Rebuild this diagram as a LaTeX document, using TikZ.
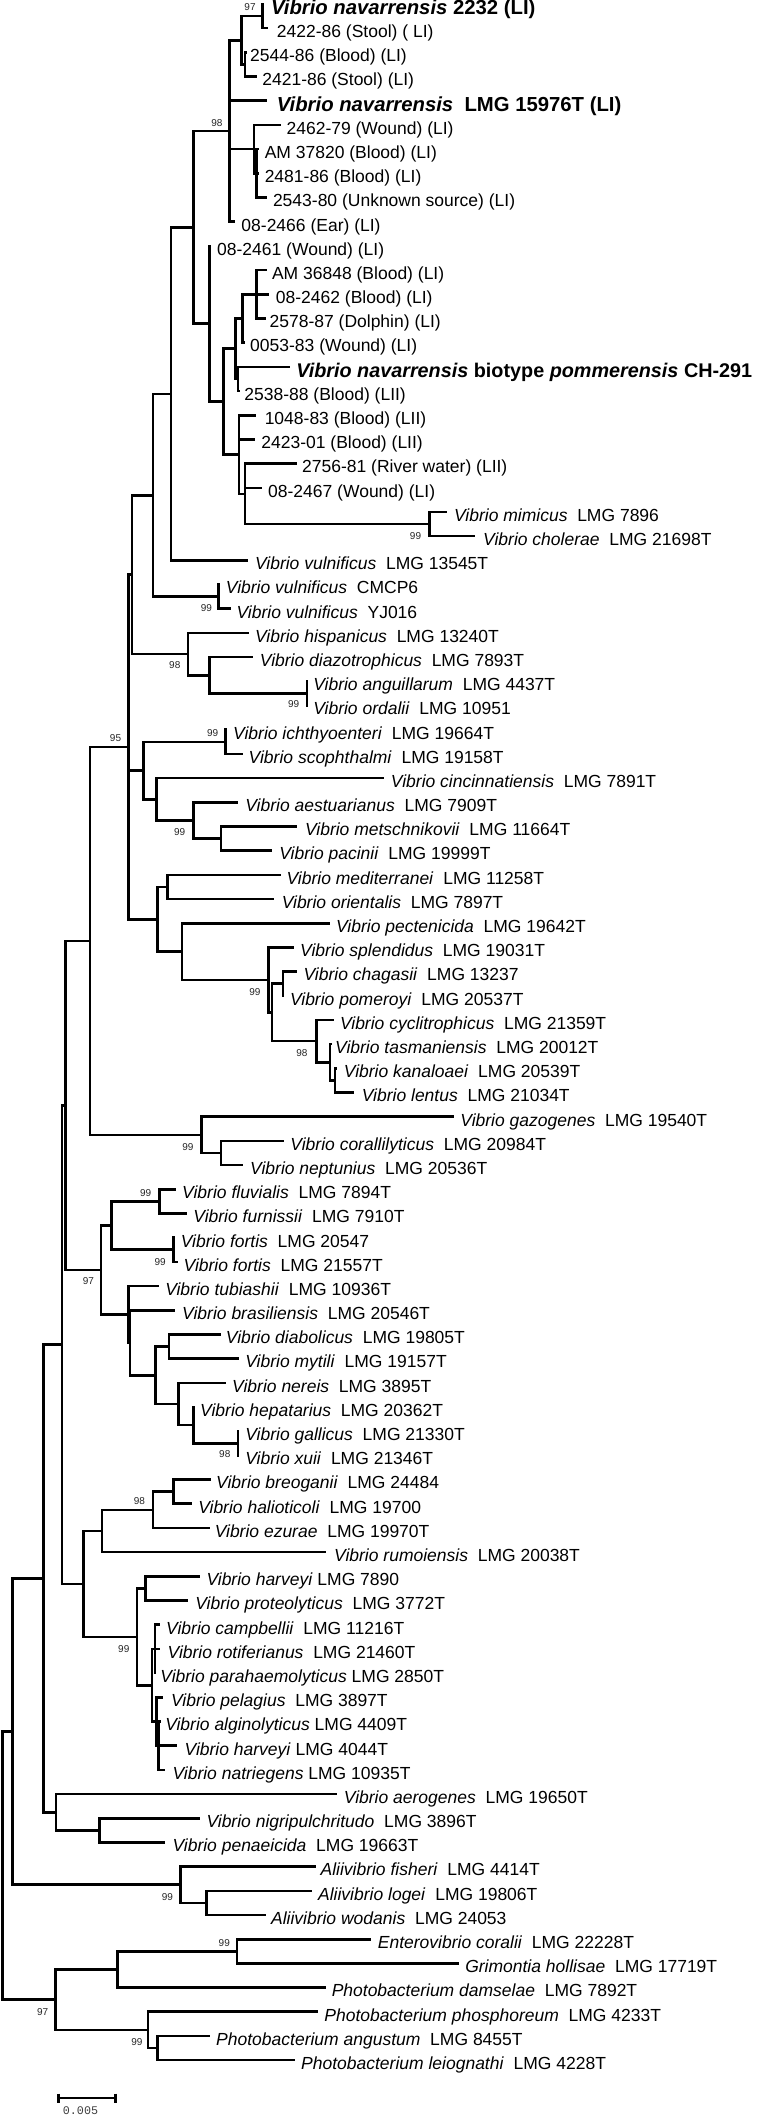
\documentclass[tikz,border=0pt]{standalone}
\usepackage{fontspec}
\setmainfont{Liberation Sans}
\setmonofont{Liberation Mono}
\usetikzlibrary{calc}
\newcommand\lf[5][lab]{%
  \coordinate (t#2) at ({#3/2.06},{4+(#2-1)*24.19});
  \node[#1] (n#2) at ({#4/2.06},{4+(#2-1)*24.19}) {#5};}
\newcommand\inode[4]{%
  \coordinate (#1m) at ($(#3)!0.5!(#4)$);
  \coordinate (#1) at ({#2/2.06},0 |- #1m);}
\newcommand\vsp[2]{\textit{#1}~~#2}
\newcommand\vsi[2]{\textit{#1} #2}
\tikzset{
  lab/.style={anchor=base west, inner sep=0pt, yshift=-9.3pt, font=\fontsize{17.5}{21}\selectfont},
  blab/.style={anchor=base west, inner sep=0pt, yshift=-10.3pt, font=\fontsize{20.3}{24}\selectfont\bfseries},
  blabs/.style={anchor=base west, inner sep=0pt, yshift=-10.2pt, font=\fontsize{19.8}{24}\selectfont\bfseries},
  br/.style={line width=2.6pt},
  bs/.style={inner sep=0pt, font=\fontsize{10}{12}\selectfont, text=black!85},
}
\begin{document}
\begin{tikzpicture}[x=1pt,y=-1pt]
\fill[white] (0,0) rectangle (760,2116);
\useasboundingbox (0,0) rectangle (760,2116);
% leaves
\lf[blab]{1}{544}{558}{\textit{Vibrio navarrensis} 2232 (LI)}
\lf{2}{553}{570}{2422-86 (Stool) ( LI)}
\lf{3}{508}{515}{2544-86 (Blood) (LI)}
\lf{4}{529}{540}{2421-86 (Stool) (LI)}
\lf[blab]{5}{550}{570}{\textit{Vibrio navarrensis}~~LMG 15976T (LI)}
\lf{6}{578}{590}{2462-79 (Wound) (LI)}
\lf{7}{533}{545}{AM 37820 (Blood) (LI)}
\lf{8}{533}{545}{2481-86 (Blood) (LI)}
\lf{9}{550}{562}{2543-80 (Unknown source) (LI)}
\lf{10}{485}{497}{08-2466 (Ear) (LI)}
\lf{11}{435}{447}{08-2461 (Wound) (LI)}
\lf{12}{550}{560}{AM 36848 (Blood) (LI)}
\lf{13}{555}{568}{08-2462 (Blood) (LI)}
\lf{14}{548}{555}{2578-87 (Dolphin) (LI)}
\lf{15}{505}{515}{0053-83 (Wound) (LI)}
\lf[blabs]{16}{598}{610}{\textit{Vibrio navarrensis} biotype \textit{pommerensis} CH-291}
\lf{17}{494}{503}{2538-88 (Blood) (LII)}
\lf{18}{528}{545}{1048-83 (Blood) (LII)}
\lf{19}{525}{538}{2423-01 (Blood) (LII)}
\lf{20}{612}{622}{2756-81 (River water) (LII)}
\lf{21}{540}{552}{08-2467 (Wound) (LI)}
\lf{22}{920}{935}{\vsp{Vibrio mimicus}{LMG 7896}}
\lf{23}{978}{995}{\vsp{Vibrio cholerae}{LMG 21698T}}
\lf{24}{510}{525}{\vsp{Vibrio vulnificus}{LMG 13545T}}
\lf{25}{454}{465}{\vsp{Vibrio vulnificus}{CMCP6}}
\lf{26}{475}{487}{\vsp{Vibrio vulnificus}{YJ016}}
\lf{27}{512}{525}{\vsp{Vibrio hispanicus}{LMG 13240T}}
\lf{28}{522}{535}{\vsp{Vibrio diazotrophicus}{LMG 7893T}}
\lf{29}{635}{645}{\vsp{Vibrio anguillarum}{LMG 4437T}}
\lf{30}{635}{645}{\vsp{Vibrio ordalii}{LMG 10951}}
\lf{31}{468}{480}{\vsp{Vibrio ichthyoenteri}{LMG 19664T}}
\lf{32}{500}{512}{\vsp{Vibrio scophthalmi}{LMG 19158T}}
\lf{33}{790}{805}{\vsp{Vibrio cincinnatiensis}{LMG 7891T}}
\lf{34}{490}{505}{\vsp{Vibrio aestuarianus}{LMG 7909T}}
\lf{35}{612}{628}{\vsp{Vibrio metschnikovii}{LMG 11664T}}
\lf{36}{560}{575}{\vsp{Vibrio pacinii}{LMG 19999T}}
\lf{37}{578}{590}{\vsp{Vibrio mediterranei}{LMG 11258T}}
\lf{38}{565}{580}{\vsp{Vibrio orientalis}{LMG 7897T}}
\lf{39}{680}{692}{\vsp{Vibrio pectenicida}{LMG 19642T}}
\lf{40}{605}{618}{\vsp{Vibrio splendidus}{LMG 19031T}}
\lf{41}{612}{625}{\vsp{Vibrio chagasii}{LMG 13237}}
\lf{42}{586}{597}{\vsp{Vibrio pomeroyi}{LMG 20537T}}
\lf{43}{688}{700}{\vsp{Vibrio cyclitrophicus}{LMG 21359T}}
\lf{44}{683}{690}{\vsp{Vibrio tasmaniensis}{LMG 20012T}}
\lf{45}{695}{708}{\vsp{Vibrio kanaloaei}{LMG 20539T}}
\lf{46}{730}{745}{\vsp{Vibrio lentus}{LMG 21034T}}
\lf{47}{935}{948}{\vsp{Vibrio gazogenes}{LMG 19540T}}
\lf{48}{585}{598}{\vsp{Vibrio corallilyticus}{LMG 20984T}}
\lf{49}{500}{515}{\vsp{Vibrio neptunius}{LMG 20536T}}
\lf{50}{362}{375}{\vsp{Vibrio fluvialis}{LMG 7894T}}
\lf{51}{385}{398}{\vsp{Vibrio furnissii}{LMG 7910T}}
\lf{52}{361}{372}{\vsp{Vibrio fortis}{LMG 20547}}
\lf{53}{366}{378}{\vsp{Vibrio fortis}{LMG 21557T}}
\lf{54}{328}{340}{\vsp{Vibrio tubiashii}{LMG 10936T}}
\lf{55}{360}{375}{\vsp{Vibrio brasiliensis}{LMG 20546T}}
\lf{56}{455}{465}{\vsp{Vibrio diabolicus}{LMG 19805T}}
\lf{57}{492}{505}{\vsp{Vibrio mytili}{LMG 19157T}}
\lf{58}{465}{478}{\vsp{Vibrio nereis}{LMG 3895T}}
\lf{59}{402}{412}{\vsp{Vibrio hepatarius}{LMG 20362T}}
\lf{60}{493}{505}{\vsp{Vibrio gallicus}{LMG 21330T}}
\lf{61}{493}{505}{\vsp{Vibrio xuii}{LMG 21346T}}
\lf{62}{435}{445}{\vsp{Vibrio breoganii}{LMG 24484}}
\lf{63}{395}{408}{\vsp{Vibrio halioticoli}{LMG 19700}}
\lf{64}{432}{442}{\vsp{Vibrio ezurae}{LMG 19970T}}
\lf{65}{672}{688}{\vsp{Vibrio rumoiensis}{LMG 20038T}}
\lf{66}{412}{425}{\vsi{Vibrio harveyi}{LMG 7890}}
\lf{67}{388}{402}{\vsp{Vibrio proteolyticus}{LMG 3772T}}
\lf{68}{330}{342}{\vsp{Vibrio campbellii}{LMG 11216T}}
\lf{69}{330}{345}{\vsp{Vibrio rotiferianus}{LMG 21460T}}
\lf{70}{322}{330}{\vsi{Vibrio parahaemolyticus}{LMG 2850T}}
\lf{71}{336}{352}{\vsp{Vibrio pelagius}{LMG 3897T}}
\lf{72}{331}{340}{\vsi{Vibrio alginolyticus}{LMG 4409T}}
\lf{73}{365}{380}{\vsi{Vibrio harveyi}{LMG 4044T}}
\lf{74}{340}{355}{\vsi{Vibrio natriegens}{LMG 10935T}}
\lf{75}{695}{708}{\vsp{Vibrio aerogenes}{LMG 19650T}}
\lf{76}{412}{425}{\vsp{Vibrio nigripulchritudo}{LMG 3896T}}
\lf{77}{340}{355}{\vsp{Vibrio penaeicida}{LMG 19663T}}
\lf{78}{650}{660}{\vsp{Aliivibrio fisheri}{LMG 4414T}}
\lf{79}{643}{655}{\vsp{Aliivibrio logei}{LMG 19806T}}
\lf{80}{548}{558}{\vsp{Aliivibrio wodanis}{LMG 24053}}
\lf{81}{765}{778}{\vsp{Enterovibrio coralii}{LMG 22228T}}
\lf{82}{945}{958}{\vsp{Grimontia hollisae}{LMG 17719T}}
\lf{83}{672}{683}{\vsp{Photobacterium damselae}{LMG 7892T}}
\lf{84}{655}{668}{\vsp{Photobacterium phosphoreum}{LMG 4233T}}
\lf{85}{432}{445}{\vsp{Photobacterium angustum}{LMG 8455T}}
\lf{86}{608}{620}{\vsp{Photobacterium leiognathi}{LMG 4228T}}
% internal nodes
\inode{A}{541}{t1}{t2}
\inode{C}{505}{t3}{t4}
\inode{B}{498}{A}{C}
\inode{F}{528}{t7}{t9}
\inode{E}{523}{t6}{F}
\inode{D}{473}{B}{t10}
\inode{O}{528}{t12}{t14}
\inode{M}{500}{O}{t15}
\inode{N}{490}{t16}{t17}
\inode{K}{485}{M}{N}
\inode{Q}{885}{t22}{t23}
\inode{P}{505}{t20}{Q}
\inode{L}{492}{t18}{P}
\inode{J}{460}{K}{L}
\inode{H}{432}{t11}{J}
\inode{G}{398}{D}{H}
\inode{I}{352}{G}{t24}
\inode{S}{450}{t25}{t26}
\inode{R}{315}{I}{S}
\inode{W}{632}{t29}{t30}
\inode{V}{432}{t28}{W}
\inode{U}{387}{t27}{V}
\inode{T}{272}{R}{U}
\inode{AC}{465}{t31}{t32}
\inode{AF}{455}{t35}{t36}
\inode{AE}{398}{t34}{AF}
\inode{AD}{322}{t33}{AE}
\inode{AB}{295}{AC}{AD}
\inode{AG}{345}{t37}{t38}
\inode{AK}{583}{t41}{t42}
\inode{AN}{690}{t45}{t46}
\inode{AM}{680}{t44}{AN}
\inode{AL}{652}{t43}{AM}
\inode{AJ}{560}{AK}{AL}
\inode{AI}{553}{t40}{AJ}
\inode{AH}{375}{t39}{AI}
\inode{AA}{325}{AG}{AH}
\inode{X}{265}{T}{AA}
\inode{BC}{455}{t48}{t49}
\inode{BB}{415}{t47}{BC}
\inode{Z}{185}{X}{BB}
\inode{BL}{328}{t50}{t51}
\inode{BM}{358}{t52}{t53}
\inode{BE}{230}{BL}{BM}
\inode{BK}{490}{t60}{t61}
\inode{BJ}{398}{t59}{BK}
\inode{BI}{368}{t58}{BJ}
\inode{BH}{348}{t56}{t57}
\inode{BG}{320}{BH}{BI}
\inode{BFb}{268}{t55}{BG}
\inode{BF}{265}{t54}{BFb}
\inode{BD}{208}{BE}{BF}
\inode{BA}{135}{Z}{BD}
\inode{BT}{358}{t62}{t63}
\inode{BS}{315}{BT}{t64}
\inode{BQ}{210}{BS}{t65}
\inode{BU}{300}{t66}{t67}
\inode{BW}{319}{t68}{t70}
\inode{BXa}{327}{t72}{t74}
\inode{BX}{323}{t71}{BXa}
\inode{BV}{313}{BW}{BX}
\inode{BR}{282}{BU}{BV}
\inode{BO}{172}{BQ}{BR}
\inode{BN}{128}{BA}{BO}
\inode{BZ}{205}{t76}{t77}
\inode{BY}{115}{t75}{BZ}
\inode{BP}{90}{BN}{BY}
\inode{CC}{425}{t79}{t80}
\inode{CB}{372}{t78}{CC}
\inode{CA}{26}{BP}{CB}
\inode{CG}{488}{t81}{t82}
\inode{CE}{242}{CG}{t83}
\inode{CH}{325}{t85}{t86}
\inode{CF}{305}{t84}{CH}
\inode{CD}{114}{CE}{CF}
\inode{Root}{5.5}{CA}{CD}
% branches
\foreach \pnode/\cnode in {A/t1, A/t2, C/t3, C/t4, B/A, B/C, F/t7, F/t8, F/t9, E/t6, E/F,
  D/B, D/t5, D/E, D/t10, O/t12, O/t13, O/t14, M/O, M/t15, N/t16, N/t17, K/M, K/N,
  Q/t22, Q/t23, P/t20, P/t21, P/Q, L/t18, L/t19, L/P, J/K, J/L, H/t11, H/J, G/D, G/H,
  I/G, I/t24, S/t25, S/t26, R/I, R/S, W/t29, W/t30, V/t28, V/W, U/t27, U/V, T/R, T/U,
  AC/t31, AC/t32, AF/t35, AF/t36, AE/t34, AE/AF, AD/t33, AD/AE, AB/AC, AB/AD,
  AG/t37, AG/t38, AK/t41, AK/t42, AN/t45, AN/t46, AM/t44, AM/AN, AL/t43, AL/AM,
  AJ/AK, AJ/AL, AI/t40, AI/AJ, AH/t39, AH/AI, AA/AG, AA/AH, X/T, X/AB, X/AA,
  BC/t48, BC/t49, BB/t47, BB/BC, Z/X, Z/BB, BL/t50, BL/t51, BM/t52, BM/t53, BE/BL, BE/BM,
  BK/t60, BK/t61, BJ/t59, BJ/BK, BI/t58, BI/BJ, BH/t56, BH/t57, BG/BH, BG/BI,
  BFb/t55, BFb/BG, BF/t54, BF/BFb, BD/BE, BD/BF, BA/Z, BA/BD,
  BT/t62, BT/t63, BS/BT, BS/t64, BQ/BS, BQ/t65, BU/t66, BU/t67,
  BW/t68, BW/t69, BW/t70, BXa/t72, BXa/t73, BXa/t74, BX/t71, BX/BXa, BV/BW, BV/BX,
  BR/BU, BR/BV, BO/BQ, BO/BR, BN/BA, BN/BO, BZ/t76, BZ/t77, BY/t75, BY/BZ, BP/BN, BP/BY,
  CC/t79, CC/t80, CB/t78, CB/CC, CA/BP, CA/CB, CG/t81, CG/t82, CE/CG, CE/t83,
  CH/t85, CH/t86, CF/t84, CF/CH, CD/CE, CD/CF, Root/CA, Root/CD}
  {\draw[br] (\pnode) |- (\cnode);}
% bootstrap values
\node[bs] (b1) at ({515/2.06},7.5) {97};
\node[bs] (b2) at ({447/2.06},123) {98};
\node[bs] (b3) at ({856/2.06},536) {99};
\node[bs] (b4) at ({425/2.06},608) {99};
\node[bs] (b5) at ({360/2.06},665) {98};
\node[bs] (b6) at ({605/2.06},704) {99};
\node[bs] (b7) at ({438/2.06},733) {99};
\node[bs] (b8) at ({238/2.06},738) {95};
\node[bs] (b9) at ({370/2.06},832) {99};
\node[bs] (b10) at ({525/2.06},992) {99};
\node[bs] (b11) at ({622/2.06},1053) {98};
\node[bs] (b12) at ({387/2.06},1147) {99};
\node[bs] (b13) at ({300/2.06},1193) {99};
\node[bs] (b14) at ({330/2.06},1262) {99};
\node[bs] (b15) at ({182/2.06},1281) {97};
\node[bs] (b16) at ({463/2.06},1454) {98};
\node[bs] (b17) at ({287/2.06},1501) {98};
\node[bs] (b18) at ({255/2.06},1649) {99};
\node[bs] (b19) at ({345/2.06},1897) {99};
\node[bs] (b20) at ({462/2.06},1943) {99};
\node[bs] (b21) at ({88/2.06},2012) {97};
\node[bs] (b22) at ({282/2.06},2042) {99};
% scale bar
\coordinate (sb1) at (58.5,2098);
\coordinate (sb2) at (115.6,2098);
\draw[br] (sb1) -- (sb2);
\draw[br] ([yshift=4.5pt]sb1) -- ([yshift=-4.5pt]sb1);
\draw[br] ([yshift=4.5pt]sb2) -- ([yshift=-4.5pt]sb2);
\node[anchor=north, inner sep=0pt, font=\fontsize{11.7}{13}\ttfamily, text=black!75] (sbl) at (80.5,2106) {0.005};
\end{tikzpicture}
\end{document}
